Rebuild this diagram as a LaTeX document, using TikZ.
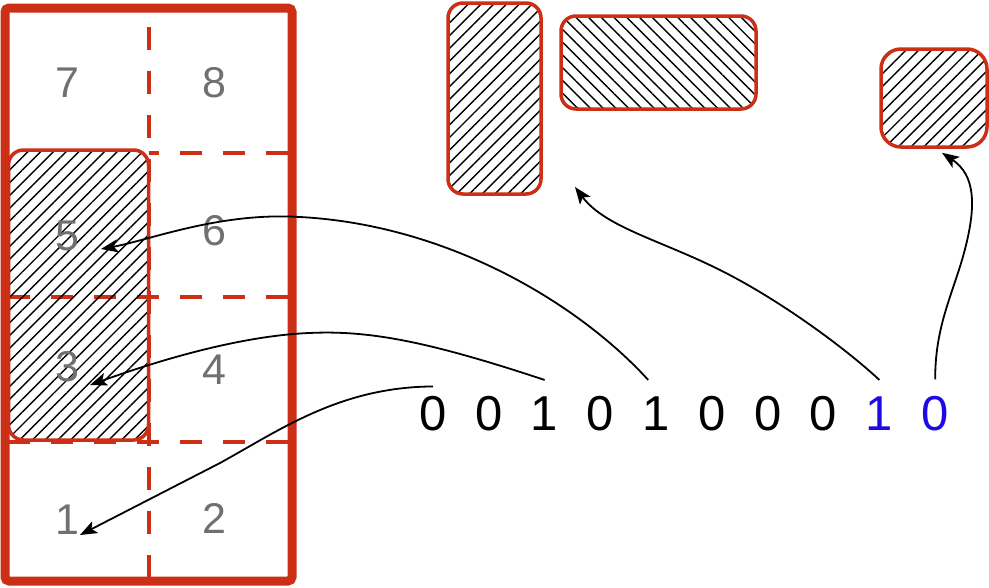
\documentclass[tikz,border=0pt]{standalone}
\usepackage{fontspec}
\setmainfont{Liberation Sans}
\usetikzlibrary{arrows.meta,patterns.meta}
\definecolor{binred}{RGB}{205,46,22}
\definecolor{numgray}{RGB}{112,112,112}
\definecolor{bitblue}{RGB}{30,10,230}

\begin{document}
\begin{tikzpicture}[
            x=1pt, y=-1pt,
            binbox/.style={rectangle, draw=binred, line width=9pt, rounded corners=4pt, inner sep=0pt},
            divider/.style={draw=binred, line width=3.5pt, dash pattern=on 22pt off 21pt},
            block/.style={rectangle, draw=binred, line width=3.5pt, rounded corners=15pt, inner sep=0pt,
                pattern={Lines[angle=45, distance=9pt, line width=1.4pt]}},
            cellnum/.style={font=\fontsize{43}{43}\selectfont, text=numgray, inner sep=0pt},
            bit/.style={font=\fontsize{49}{49}\selectfont, inner xsep=0pt, inner ysep=17pt},
            link/.style={draw, line width=1.8pt, -{Stealth[length=17pt, width=13pt, inset=4pt]}}
        ]
        \useasboundingbox (0,0) rectangle (989,587);

        % The bin with its eight cells
        \node[binbox, minimum width=287pt, minimum height=573pt] (bin) at (148.5,294.5) {};
        \draw[divider, dash pattern=on 23pt off 21pt] (149,27) -- (149,581);
        \draw[divider, dash phase=12pt] (149,153) -- (292,153);
        \draw[divider] (8,297) -- (292,297);
        \draw[divider] (8,442) -- (292,442);

        % Placed item inside the bin
        \node[block, minimum width=140pt, minimum height=290pt] (placed) at (78.5,295) {};

        % Cell numbers
        \node[cellnum] (n7) at (67,83) {7};
        \node[cellnum] (n8) at (214,83) {8};
        \node[cellnum] (n5) at (67,236) {5};
        \node[cellnum] (n6) at (214,231) {6};
        \node[cellnum] (n3) at (67,367) {3};
        \node[cellnum] (n4) at (214,370) {4};
        \node[cellnum] (n1) at (67,520) {1};
        \node[cellnum] (n2) at (214,518) {2};

        % Items still to place
        \node[block, minimum width=93pt, minimum height=191pt] (tall) at (494.5,98.5) {};
        \node[block, minimum width=195pt, minimum height=93pt,
            pattern={Lines[angle=-45, distance=9pt, line width=1.4pt]}] (wide) at (658.5,62.5) {};
        \node[block, minimum width=106pt, minimum height=98pt, rounded corners=20pt] (smallblock) at (934,98) {};

        % Bit string
        \node[bit] (bit1) at (433,414) {0};
        \node[bit] (bit2) at (488.8,414) {0};
        \node[bit] (bit3) at (544.6,414) {1};
        \node[bit] (bit4) at (600.4,414) {0};
        \node[bit] (bit5) at (656.2,414) {1};
        \node[bit] (bit6) at (712,414) {0};
        \node[bit] (bit7) at (767.8,414) {0};
        \node[bit] (bit8) at (823.6,414) {0};
        \node[bit, text=bitblue] (bit9) at (879.4,414) {1};
        \node[bit, text=bitblue] (bit10) at (935.2,414) {0};

        % Arrow ends
        \coordinate (tip1) at (80,535);
        \coordinate (tip3) at (90,385);
        \coordinate (tip5) at (101,249);
        \coordinate (freeend) at (575,187);

        \draw[link] ([yshift=-7pt]bit1.north) .. controls (340,387) and (280,430) .. (220,463) -- (tip1);
        \draw[link] (bit3.north) .. controls (430,342) and (370,330) .. (309,333)
            .. controls (240,336) and (160,360) .. (tip3);
        \draw[link] ([xshift=-8pt]bit5.north) .. controls (580,305) and (450,225) .. (300,217)
            .. controls (220,212) and (150,240) .. (tip5);
        \draw[link] (bit9.north) .. controls (845,348) and (780,300) .. (720,270)
            .. controls (660,240) and (605,227) .. (freeend);
        \draw[link] (bit10.north) .. controls (935,330) and (950,300) .. (962,260)
            .. controls (978,205) and (975,175) .. ([xshift=8pt, yshift=-4pt]smallblock.south);

    \end{tikzpicture}
\end{document}
